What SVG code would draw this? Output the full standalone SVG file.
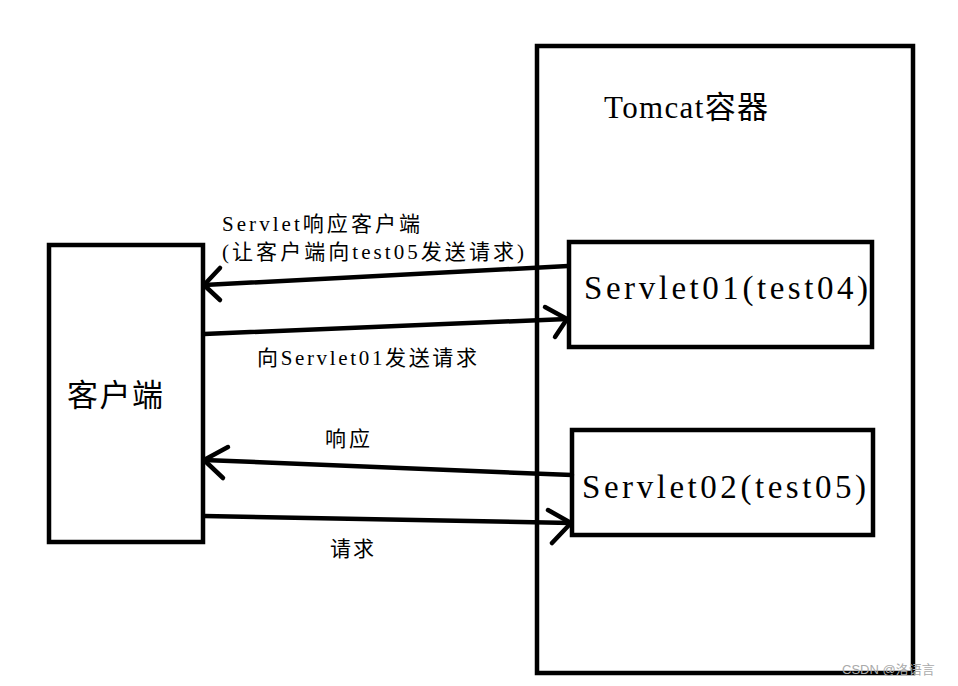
<svg xmlns="http://www.w3.org/2000/svg" width="958" height="686" viewBox="0 0 958 686">
<style>
.box{fill:none;stroke:#000;stroke-width:4.5}
.ln{fill:none;stroke:#000;stroke-width:4.5;stroke-linecap:round;stroke-linejoin:round}
.t{font-family:"Liberation Serif","Noto Sans CJK SC",serif;fill:#000}
.wm{font-family:"Liberation Sans","Noto Sans CJK SC",sans-serif;fill:#aaa;font-size:13px}
</style>
<rect width="958" height="686" fill="#fff"/>
<g id="tomcat">
<rect class="box" x="537" y="46" width="376" height="627"/>
<text class="t" x="604" y="118" font-size="31" textLength="164">Tomcat容器</text>
</g>
<g id="client">
<rect class="box" x="49" y="245" width="154" height="297"/>
<text class="t" x="67" y="406" font-size="31" textLength="96">客户端</text>
</g>
<g id="servlet01">
<rect class="box" x="569" y="242" width="303" height="105"/>
<text class="t" x="584" y="299" font-size="33" textLength="284">Servlet01(test04)</text>
</g>
<g id="servlet02">
<rect class="box" x="572" y="430" width="301" height="105"/>
<text class="t" x="582" y="498" font-size="33" textLength="284">Servlet02(test05)</text>
</g>
<g id="connectors">
<path class="ln" d="M568 266 L204 285"/>
<path class="ln" d="M220 268 L204 285 L220 300"/>
<path class="ln" d="M204 334 L567 319"/>
<path class="ln" d="M545 307 L567 319 L555 337"/>
<path class="ln" d="M572 475 L204 460"/>
<path class="ln" d="M228 447 L204 460 L223 478"/>
<path class="ln" d="M204 516 L571 523"/>
<path class="ln" d="M548 510 L571 523 L552 543"/>
</g>
<g id="labels">
<text class="t" x="222" y="231" font-size="21" textLength="198">Servlet响应客户端</text>
<text class="t" x="222" y="259" font-size="21" textLength="302">(让客户端向test05发送请求)</text>
<text class="t" x="257" y="365" font-size="21" textLength="220">向Servlet01发送请求</text>
<text class="t" x="325" y="446" font-size="21" textLength="45">响应</text>
<text class="t" x="330" y="556" font-size="21" textLength="44">请求</text>
</g>
<text class="wm" x="842" y="674">CSDN @洛语言</text>
</svg>
